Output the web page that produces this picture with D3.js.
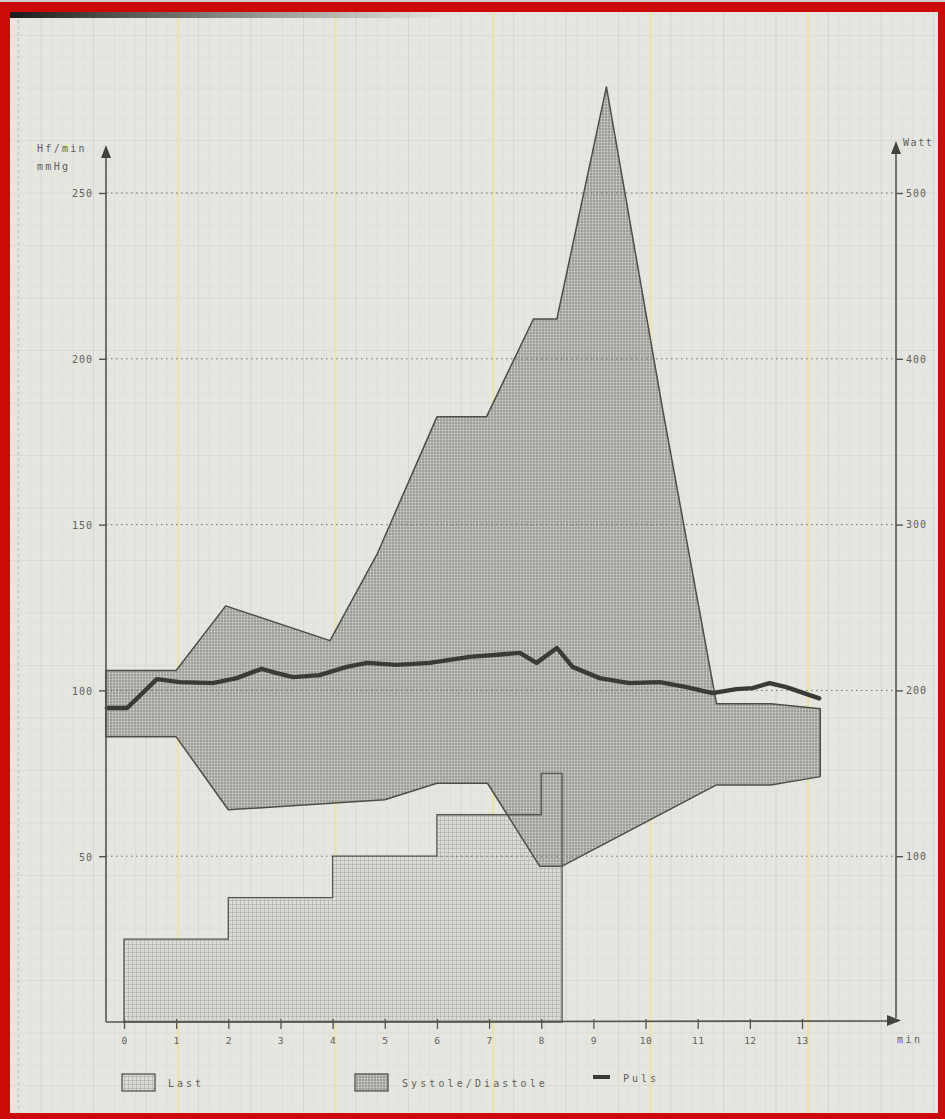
<!DOCTYPE html>
<html>
<head>
<meta charset="utf-8">
<script src="https://cdn.jsdelivr.net/npm/d3@7"></script>
<style>
  html, body { margin: 0; padding: 0; background: #ffffff; }
  svg text { font-family: "DejaVu Sans Mono", "Liberation Mono", monospace; fill: #5e5e5a; }
</style>
</head>
<body>
<svg id="chart" width="945" height="1119"></svg>
<script>
// ---- Data: exercise test protocol ----
const minuteTicks = d3.range(0, 14);                 // 0 … 13 min
const leftTicks   = [50, 100, 150, 200, 250];        // Hf/min, mmHg
const rightTicks  = [100, 200, 300, 400, 500];       // Watt

// Load (Last) steps in Watt, step held until the next time
const loadTime = [0, 2, 4, 6, 8, 8.4];
const loadWatt = [50, 75, 100, 125, 150, 150];

// Systolic blood pressure (upper edge of the band), mmHg
const sysTime = [-0.35, 1.0, 1.95, 3.95, 4.85, 6.0, 6.95, 7.85, 8.3, 9.25, 10.33, 11.36, 12.4, 13.35];
const sysVal  = [106, 106, 125.5, 115, 141, 182.5, 182.5, 212, 212, 282, 184.6, 96, 96, 94.5];

// Diastolic blood pressure (lower edge of the band), mmHg
const diaTime = [-0.35, 1.0, 2.0, 5.0, 6.0, 6.97, 7.97, 8.4, 11.36, 12.4, 13.35];
const diaVal  = [86, 86, 64, 67, 72, 72, 47, 47, 71.5, 71.5, 74];

// Heart rate (Puls), beats per minute
const pulseTime = [-0.33, 0.06, 0.63, 1.07, 1.70, 2.16, 2.64, 2.93, 3.24, 3.75, 4.27, 4.66, 5.23, 5.86,
                   6.63, 7.59, 7.91, 8.30, 8.60, 9.12, 9.69, 10.27, 10.79, 11.28, 11.74, 12.05, 12.38, 12.70, 13.33];
const pulseVal  = [94.7, 94.7, 103.4, 102.5, 102.2, 103.7, 106.5, 105.2, 104.0, 104.6, 107.1, 108.3, 107.7, 108.3,
                   110.1, 111.3, 108.3, 112.8, 107.1, 103.7, 102.2, 102.5, 101.0, 99.2, 100.4, 100.7, 102.2, 101.0, 97.6];

const legendItems = ["Last", "Systole/Diastole", "Puls"];

// ---- Layout ----
const W = 945, H = 1119;
const svg = d3.select("#chart");
const defs = svg.append("defs");

const x  = d3.scaleLinear().domain([0, 13]).range([124, 802]);
const yL = d3.scaleLinear().domain([0, 250]).range([1022, 193]);
const yR = d3.scaleLinear().domain([0, 500]).range([1022, 193]);
const axisLeftX = 106, axisRightX = 896, axisTopL = 145, axisTopR = 141, axisEndX = 901;

// ---- Fills ----
const dots = defs.append("pattern").attr("id", "dots")
  .attr("patternUnits", "userSpaceOnUse").attr("width", 3).attr("height", 3);
dots.append("rect").attr("width", 3).attr("height", 3).attr("fill", "#9c9c97");
dots.append("circle").attr("cx", 1.5).attr("cy", 1.5).attr("r", 0.9).attr("fill", "#dadad4");

const mesh = defs.append("pattern").attr("id", "mesh")
  .attr("patternUnits", "userSpaceOnUse").attr("width", 4).attr("height", 4);
mesh.append("rect").attr("width", 4).attr("height", 4).attr("fill", "#dcdcd6");
mesh.append("path").attr("d", "M0,0.5H4M0.5,0V4").attr("stroke", "#b2b2ac").attr("stroke-width", 0.7);

const shade = defs.append("linearGradient").attr("id", "shade");
shade.append("stop").attr("offset", "0%").attr("stop-color", "#111").attr("stop-opacity", 0.95);
shade.append("stop").attr("offset", "100%").attr("stop-color", "#333").attr("stop-opacity", 0);

// ---- Frame and paper ----
svg.append("rect").attr("width", W).attr("height", H).attr("fill", "#cc0a0a");
svg.append("rect").attr("width", W).attr("height", 2).attr("fill", "#cfcfcf");
svg.append("rect").attr("x", 10).attr("y", 12).attr("width", 928).attr("height", 1101).attr("fill", "#e6e6e1");

// fine millimetre grid of the paper
const paper = svg.append("g");
const fine = 157.5 / 15;
d3.range(10 + (178 % fine), 938, fine).forEach((gx, i) => {
  paper.append("line").attr("x1", gx).attr("x2", gx).attr("y1", 12).attr("y2", 1113)
    .attr("stroke", "#d5d5cf").attr("stroke-width", (i % 5 === 2) ? 0.9 : 0.4);
});
d3.range(12 + (193 - 12) % fine, 1113, fine).forEach((gy, i) => {
  paper.append("line").attr("x1", 10).attr("x2", 938).attr("y1", gy).attr("y2", gy)
    .attr("stroke", "#d8d8d2").attr("stroke-width", (i % 5 === 2) ? 0.8 : 0.4);
});
// yellow major lines of the paper
d3.range(178, 938, 157.5).forEach(gx => {
  paper.append("line").attr("x1", gx).attr("x2", gx).attr("y1", 12).attr("y2", 1113)
    .attr("stroke", "#ece2b0").attr("stroke-width", 2.4);
});
// paper edge and scanner shadow
paper.append("line").attr("x1", 18).attr("x2", 18).attr("y1", 20).attr("y2", 1113)
  .attr("stroke", "#b8b8b2").attr("stroke-width", 1).attr("stroke-dasharray", "3,3");
paper.append("rect").attr("x", 10).attr("y", 12).attr("width", 440).attr("height", 6).attr("fill", "url(#shade)");

// ---- Load (Last) area, right axis ----
const loadArea = d3.area()
  .curve(d3.curveStepAfter)
  .x((d, i) => x(loadTime[i]))
  .y0(yR(0))
  .y1((d, i) => yR(loadWatt[i]));
svg.append("path").datum(loadWatt).attr("d", loadArea)
  .attr("fill", "url(#mesh)").attr("stroke", "none");

// ---- Systole/Diastole band, left axis ----
const sysPts = sysTime.map((t, i) => [x(t), yL(sysVal[i])]);
const diaPts = diaTime.map((t, i) => [x(t), yL(diaVal[i])]).reverse();
const bandLine = d3.line();
svg.append("path").attr("d", bandLine(sysPts.concat(diaPts)) + "Z")
  .attr("fill", "url(#dots)").attr("stroke", "#4e4e48").attr("stroke-width", 1.5)
  .attr("stroke-linejoin", "round");

// outline of the load steps stays visible through the band
svg.append("path").datum(loadWatt).attr("d", loadArea)
  .attr("fill", "none").attr("stroke", "#55554f").attr("stroke-width", 1.3);

// ---- Dotted reference lines ----
leftTicks.forEach(v => {
  svg.append("line").attr("x1", axisLeftX).attr("x2", axisRightX)
    .attr("y1", yL(v)).attr("y2", yL(v))
    .attr("stroke", "#6e6e68").attr("stroke-width", 1).attr("stroke-dasharray", "1.5,3.5");
});

// ---- Puls line ----
const pulseLine = d3.line()
  .x((d, i) => x(pulseTime[i]))
  .y(d => yL(d));
svg.append("path").datum(pulseVal).attr("d", pulseLine)
  .attr("fill", "none").attr("stroke", "#3a3a36").attr("stroke-width", 4.4)
  .attr("stroke-linejoin", "round").attr("stroke-linecap", "round");

// ---- Axes ----
const axisColor = "#55554f";
// left axis with arrow
svg.append("line").attr("x1", axisLeftX).attr("x2", axisLeftX).attr("y1", axisTopL + 8).attr("y2", 1022)
  .attr("stroke", axisColor).attr("stroke-width", 1.6);
svg.append("path").attr("d", d3.line()([[axisLeftX - 5, axisTopL + 13], [axisLeftX, axisTopL], [axisLeftX + 5, axisTopL + 13]]) + "Z")
  .attr("fill", "#44443f");
const gL = svg.append("g").attr("transform", `translate(${axisLeftX},0)`)
  .call(d3.axisLeft(yL).tickValues(leftTicks).tickSize(7).tickPadding(6));
gL.select(".domain").remove();
gL.selectAll(".tick line").attr("stroke", axisColor).attr("stroke-width", 1.4);
gL.selectAll(".tick text").attr("font-size", 10).attr("letter-spacing", 1).attr("dy", "0.38em")
  .style("font-family", "DejaVu Sans Mono").attr("fill", "#5e5e5a");

// right axis with arrow
svg.append("line").attr("x1", axisRightX).attr("x2", axisRightX).attr("y1", axisTopR + 8).attr("y2", 1018)
  .attr("stroke", axisColor).attr("stroke-width", 1.6);
svg.append("path").attr("d", d3.line()([[axisRightX - 5, axisTopR + 13], [axisRightX, axisTopR], [axisRightX + 5, axisTopR + 13]]) + "Z")
  .attr("fill", "#44443f");
const gR = svg.append("g").attr("transform", `translate(${axisRightX},0)`)
  .call(d3.axisRight(yR).tickValues(rightTicks).tickSize(7).tickPadding(3));
gR.select(".domain").remove();
gR.selectAll(".tick line").attr("stroke", axisColor).attr("stroke-width", 1.4);
gR.selectAll(".tick text").attr("font-size", 10).attr("letter-spacing", 1)
  .style("font-family", "DejaVu Sans Mono").attr("fill", "#5e5e5a");

// time axis with arrow
svg.append("line").attr("x1", axisLeftX).attr("x2", axisEndX - 10).attr("y1", 1022).attr("y2", 1021)
  .attr("stroke", axisColor).attr("stroke-width", 1.6);
svg.append("path").attr("d", d3.line()([[axisEndX - 14, 1015], [axisEndX, 1020.5], [axisEndX - 14, 1026]]) + "Z")
  .attr("fill", "#44443f");
const gX = svg.append("g").attr("transform", "translate(0,1022)")
  .call(d3.axisBottom(x).tickValues(minuteTicks).tickSize(7).tickPadding(8));
gX.select(".domain").remove();
gX.selectAll(".tick line").attr("stroke", axisColor).attr("stroke-width", 1.3).attr("y1", -3);
gX.selectAll(".tick text").attr("font-size", 9.5).attr("letter-spacing", 0.5)
  .style("font-family", "DejaVu Sans Mono").attr("fill", "#5e5e5a");

// axis titles
const title = (tx, ty, s) => svg.append("text").attr("x", tx).attr("y", ty).text(s)
  .attr("font-size", 10).attr("letter-spacing", 2.3);
title(37, 152, "Hf/min");
title(37, 170, "mmHg");
title(903, 146, "Watt").attr("letter-spacing", 1.6);
title(897, 1043, "min").attr("letter-spacing", 2.5);

// ---- Legend ----
const lg = svg.append("g");
lg.append("rect").attr("x", 122).attr("y", 1074).attr("width", 33).attr("height", 17)
  .attr("fill", "url(#mesh)").attr("stroke", "#55554f").attr("stroke-width", 1.3);
lg.append("text").attr("x", 168).attr("y", 1087).text(legendItems[0])
  .attr("font-size", 10).attr("letter-spacing", 3);
lg.append("rect").attr("x", 355).attr("y", 1074).attr("width", 33).attr("height", 17)
  .attr("fill", "url(#dots)").attr("stroke", "#55554f").attr("stroke-width", 1.3);
lg.append("text").attr("x", 402).attr("y", 1087).text(legendItems[1])
  .attr("font-size", 10).attr("letter-spacing", 3.1);
lg.append("line").attr("x1", 593).attr("x2", 610).attr("y1", 1077).attr("y2", 1077)
  .attr("stroke", "#3a3a36").attr("stroke-width", 4);
lg.append("text").attr("x", 623).attr("y", 1082).text(legendItems[2])
  .attr("font-size", 10).attr("letter-spacing", 3);
</script>
</body>
</html>
